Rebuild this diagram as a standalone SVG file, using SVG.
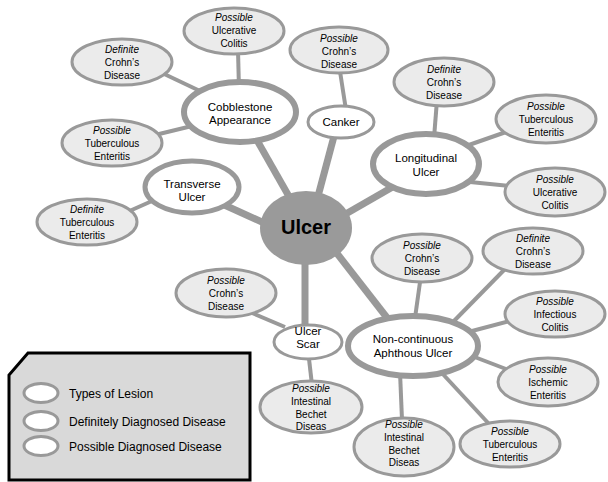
<svg xmlns="http://www.w3.org/2000/svg" width="608" height="482" viewBox="0 0 608 482">
<style>
.thick{stroke:#999;stroke-width:7;fill:none;stroke-linecap:butt}
.thin{stroke:#999;stroke-width:4;fill:none}
.leaf{fill:#ebebeb;stroke:#999;stroke-width:3}
.l1{fill:#fff;stroke:#999;stroke-width:6}
.l1s{fill:#fff;stroke:#999;stroke-width:3}
text{font-family:"Liberation Sans",Arial,sans-serif;fill:#000;text-anchor:middle}
.t{font-size:10px}
.t i,.it{font-style:italic}
.m{font-size:11.5px}
.lg{font-size:12px;text-anchor:start}
</style>
<g id="connectors">
<line class="thick" x1="250" y1="128" x2="295" y2="207"/>
<line class="thick" x1="337" y1="125" x2="313" y2="215"/>
<line class="thick" x1="330" y1="223" x2="410" y2="177"/>
<line class="thick" x1="220" y1="203" x2="275" y2="228"/>
<line class="thick" x1="305" y1="250" x2="305" y2="330"/>
<line class="thick" x1="325" y1="238" x2="395" y2="328"/>
<line class="thin" x1="238" y1="50" x2="239" y2="90"/>
<line class="thin" x1="160" y1="72" x2="200" y2="91"/>
<line class="thin" x1="155" y1="135" x2="192" y2="126"/>
<line class="thin" x1="125" y1="213" x2="152" y2="201"/>
<line class="thin" x1="339" y1="65" x2="346" y2="110"/>
<line class="thin" x1="437" y1="100" x2="434" y2="138"/>
<line class="thin" x1="466" y1="146" x2="506" y2="132"/>
<line class="thin" x1="470" y1="182" x2="510" y2="186"/>
<line class="thin" x1="245" y1="310" x2="285" y2="327"/>
<line class="thin" x1="308" y1="350" x2="312" y2="385"/>
<line class="thin" x1="421" y1="275" x2="415" y2="318"/>
<line class="thin" x1="506" y1="268" x2="452" y2="323"/>
<line class="thin" x1="472" y1="331" x2="510" y2="321"/>
<line class="thin" x1="472" y1="356" x2="506" y2="369"/>
<line class="thin" x1="440" y1="371" x2="490" y2="425"/>
<line class="thin" x1="400" y1="372" x2="402" y2="420"/>
</g>
<g id="ulcer"><ellipse cx="306" cy="228" rx="46" ry="37" fill="#9a9a9a"/><text x="306" y="234" font-size="20" font-weight="bold">Ulcer</text></g>
<g id="cobblestone"><ellipse class="l1" cx="240" cy="112" rx="56" ry="30"/><text class="m" x="240" y="111">Cobblestone</text><text class="m" x="240" y="124">Appearance</text></g>
<g id="transverse"><ellipse class="l1" cx="192" cy="187" rx="47" ry="26" style="stroke-width:5"/><text class="m" x="192" y="188">Transverse</text><text class="m" x="192" y="201">Ulcer</text></g>
<g id="canker"><ellipse class="l1s" cx="341" cy="122" rx="33" ry="16"/><text class="m" x="341" y="126">Canker</text></g>
<g id="longitudinal"><ellipse class="l1" cx="426" cy="164" rx="53" ry="30"/><text class="m" x="426" y="162">Longitudinal</text><text class="m" x="426" y="176">Ulcer</text></g>
<g id="ulcerscar"><ellipse class="l1s" cx="308" cy="342" rx="34" ry="17"/><text class="m" x="308" y="335">Ulcer</text><text class="m" x="308" y="348">Scar</text></g>
<g id="noncontinuous"><ellipse class="l1" cx="413" cy="346" rx="65" ry="30"/><text class="m" x="413" y="343">Non-continuous</text><text class="m" x="413" y="357">Aphthous Ulcer</text></g>
<g id="cob-uc"><ellipse class="leaf" cx="234" cy="31" rx="50" ry="23"/><text class="t it" x="234" y="21">Possible</text><text class="t" x="234" y="34">Ulcerative</text><text class="t" x="234" y="47">Colitis</text></g>
<g id="cob-cd"><ellipse class="leaf" cx="122" cy="62" rx="50" ry="23"/><text class="t it" x="122" y="53">Definite</text><text class="t" x="122" y="66">Crohn’s</text><text class="t" x="122" y="79">Disease</text></g>
<g id="cob-te"><ellipse class="leaf" cx="112" cy="143" rx="50" ry="23"/><text class="t it" x="112" y="134">Possible</text><text class="t" x="112" y="147">Tuberculous</text><text class="t" x="112" y="160">Enteritis</text></g>
<g id="tr-te"><ellipse class="leaf" cx="87" cy="222" rx="50" ry="23"/><text class="t it" x="87" y="213">Definite</text><text class="t" x="87" y="226">Tuberculous</text><text class="t" x="87" y="239">Enteritis</text></g>
<g id="ck-cd"><ellipse class="leaf" cx="339" cy="50" rx="49" ry="23"/><text class="t it" x="339" y="42">Possible</text><text class="t" x="339" y="55">Crohn’s</text><text class="t" x="339" y="68">Disease</text></g>
<g id="lo-cd"><ellipse class="leaf" cx="444" cy="82" rx="50" ry="24"/><text class="t it" x="444" y="73">Definite</text><text class="t" x="444" y="86">Crohn’s</text><text class="t" x="444" y="99">Disease</text></g>
<g id="lo-te"><ellipse class="leaf" cx="546" cy="119" rx="50" ry="24"/><text class="t it" x="546" y="110">Possible</text><text class="t" x="546" y="123">Tuberculous</text><text class="t" x="546" y="136">Enteritis</text></g>
<g id="lo-uc"><ellipse class="leaf" cx="555" cy="192" rx="50" ry="24"/><text class="t it" x="555" y="183">Possible</text><text class="t" x="555" y="196">Ulcerative</text><text class="t" x="555" y="209">Colitis</text></g>
<g id="us-cd"><ellipse class="leaf" cx="226" cy="293" rx="50" ry="24"/><text class="t it" x="226" y="284">Possible</text><text class="t" x="226" y="297">Crohn’s</text><text class="t" x="226" y="310">Disease</text></g>
<g id="us-bd"><ellipse class="leaf" cx="311" cy="407" rx="51" ry="26"/><text class="t it" x="311" y="392">Possible</text><text class="t" x="311" y="405">Intestinal</text><text class="t" x="311" y="418">Bechet</text><text class="t" x="311" y="430">Diseas</text></g>
<g id="nc-cd1"><ellipse class="leaf" cx="422" cy="258" rx="50" ry="24"/><text class="t it" x="422" y="249">Possible</text><text class="t" x="422" y="262">Crohn’s</text><text class="t" x="422" y="275">Disease</text></g>
<g id="nc-cd2"><ellipse class="leaf" cx="533" cy="251" rx="50" ry="23"/><text class="t it" x="533" y="242">Definite</text><text class="t" x="533" y="255">Crohn’s</text><text class="t" x="533" y="268">Disease</text></g>
<g id="nc-ic"><ellipse class="leaf" cx="555" cy="314" rx="50" ry="23"/><text class="t it" x="555" y="305">Possible</text><text class="t" x="555" y="318">Infectious</text><text class="t" x="555" y="331">Colitis</text></g>
<g id="nc-ie"><ellipse class="leaf" cx="548" cy="382" rx="50" ry="24"/><text class="t it" x="548" y="373">Possible</text><text class="t" x="548" y="386">Ischemic</text><text class="t" x="548" y="399">Enteritis</text></g>
<g id="nc-te"><ellipse class="leaf" cx="510" cy="444" rx="50" ry="23"/><text class="t it" x="510" y="435">Possible</text><text class="t" x="510" y="448">Tuberculous</text><text class="t" x="510" y="461">Enteritis</text></g>
<g id="nc-bd"><ellipse class="leaf" cx="404" cy="447" rx="50" ry="29"/><text class="t it" x="404" y="428">Possible</text><text class="t" x="404" y="441">Intestinal</text><text class="t" x="404" y="454">Bechet</text><text class="t" x="404" y="466">Diseas</text></g>
<g id="legend">
<polygon points="28,353 250,353 250,480 9,480 9,375" fill="#d9d9d9" stroke="#000" stroke-width="3"/>
<ellipse cx="41" cy="393" rx="17" ry="9.5" fill="#fff" stroke="#999" stroke-width="3"/>
<ellipse cx="41" cy="421" rx="17" ry="9.5" fill="#fff" stroke="#999" stroke-width="3"/>
<ellipse cx="41" cy="446" rx="17" ry="9.5" fill="#fff" stroke="#999" stroke-width="3"/>
<text class="lg" x="69" y="398">Types of Lesion</text>
<text class="lg" x="69" y="426">Definitely Diagnosed Disease</text>
<text class="lg" x="69" y="451">Possible Diagnosed Disease</text>
</g>
</svg>
